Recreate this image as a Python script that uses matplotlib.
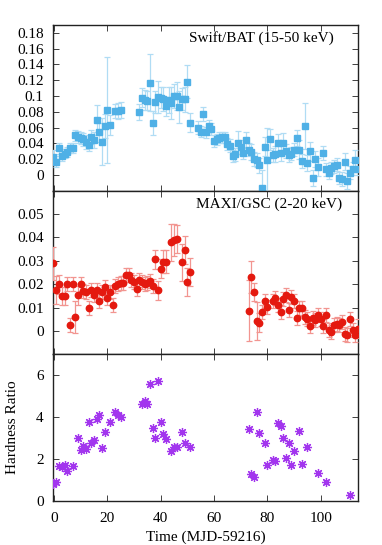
import matplotlib
matplotlib.use("Agg")
import matplotlib.pyplot as plt
import numpy as np

# ---------------- Swift/BAT (15-50 keV) ----------------
bat_t = [-0.25, 0.75, 1.9, 2.9, 3.9, 4.9, 6, 7, 8, 9, 10, 11, 12, 13, 14, 15, 16, 17, 18, 19,
         20, 21, 23, 24, 25,
         32, 33, 34, 35, 36, 37, 38, 39, 40, 41, 42, 43, 44, 45, 46, 47, 48, 49, 50, 51,
         54, 55, 56, 57, 58, 59, 60, 61, 62, 63, 64, 65, 66, 67, 68, 69, 70, 71, 72, 73,
         74, 75, 76, 77, 78, 79, 80, 81, 82, 83, 84, 85, 86, 87, 88, 89, 90, 91, 92, 93,
         94, 95, 96, 97, 98, 99, 101, 102, 103, 104, 105, 106, 107, 108, 109, 110, 111,
         112, 113, 114]
bat_r = [0.023, 0.017, 0.034, 0.024, 0.027, 0.029, 0.034, 0.034, 0.050, 0.048, 0.047, 0.045,
         0.042, 0.038, 0.048, 0.044, 0.069, 0.054, 0.042, 0.062, 0.082, 0.063, 0.081, 0.081,
         0.082,
         0.080, 0.098, 0.095, 0.094, 0.117, 0.066, 0.092, 0.099, 0.098, 0.096, 0.087, 0.095,
         0.091, 0.100, 0.100, 0.086, 0.096, 0.096, 0.118, 0.066,
         0.060, 0.055, 0.077, 0.054, 0.062, 0.058, 0.043, 0.045, 0.047, 0.048, 0.048, 0.039,
         0.037, 0.024, 0.026, 0.041, 0.035, 0.028, 0.044, 0.032, 0.029, 0.020, 0.019, 0.012,
         -0.017, 0.036, 0.019, 0.045, 0.025, 0.027, 0.041, 0.028, 0.041, 0.030, 0.025, 0.027,
         0.032, 0.047, 0.032, 0.018, 0.062, 0.015, 0.030, -0.004, 0.020, 0.010, 0.028, 0.007,
         0.003, 0.009, 0.011, 0.013, -0.004, -0.005, 0.017, -0.008, 0.003, 0.008, 0.019, 0.008]
bat_e = [0.008, 0.007, 0.007, 0.006, 0.006, 0.006, 0.006, 0.006, 0.007, 0.008, 0.008, 0.008,
         0.009, 0.008, 0.009, 0.010, 0.019, 0.012, 0.030, 0.015, 0.067, 0.013, 0.009, 0.010,
         0.010,
         0.010, 0.012, 0.013, 0.012, 0.036, 0.015, 0.014, 0.020, 0.013, 0.015, 0.012, 0.016,
         0.020, 0.015, 0.018, 0.020, 0.014, 0.016, 0.021, 0.012,
         0.008, 0.007, 0.009, 0.007, 0.007, 0.008, 0.007, 0.007, 0.007, 0.007, 0.007, 0.008,
         0.008, 0.008, 0.008, 0.015, 0.009, 0.008, 0.010, 0.008, 0.010, 0.009, 0.009, 0.009,
         0.023, 0.012, 0.040, 0.013, 0.009, 0.010, 0.011, 0.010, 0.012, 0.009, 0.009, 0.008,
         0.008, 0.010, 0.012, 0.009, 0.029, 0.010, 0.012, 0.010, 0.010, 0.012, 0.009, 0.008,
         0.008, 0.008, 0.008, 0.008, 0.008, 0.009, 0.011, 0.010, 0.008, 0.008, 0.012, 0.008]

# ---------------- MAXI/GSC (2-20 keV) ----------------
gsc_t = [-0.25, 0.75, 1.9, 2.9, 3.9, 4.9, 5.9, 7, 8, 9, 10, 11, 12, 13, 14, 15, 16, 17, 18, 19,
         20, 21, 22, 23, 24, 25, 26, 27, 28, 29, 30, 31, 32, 33, 34, 35, 36, 37, 38, 39, 40,
         41, 42, 44, 45, 46, 48, 49, 50, 51,
         73, 74, 75, 76, 77, 78, 79, 80, 82, 83, 84, 85, 86, 87, 88, 89, 90, 91, 92, 93, 94,
         95, 96, 97, 98, 99, 100, 101, 102, 103, 104, 105, 106, 107, 108, 109, 110, 111, 112,
         113, 114]
gsc_r = [0.0289, 0.0174, 0.0199, 0.0150, 0.0149, 0.0199, 0.0024, 0.0199, 0.0060, 0.0153,
         0.0199, 0.0170, 0.0167, 0.0100, 0.0174, 0.0153, 0.0177, 0.0129, 0.0167, 0.0189,
         0.0141, 0.0167, 0.0110, 0.0191, 0.0199, 0.0203, 0.0203, 0.0241, 0.0241, 0.0217,
         0.0210, 0.0180, 0.0220, 0.0210, 0.0199, 0.0207, 0.0213, 0.0193, 0.0307, 0.0174,
         0.0267, 0.0297, 0.0297, 0.0379, 0.0389, 0.0393, 0.0293, 0.0346, 0.0210, 0.0253,
         0.0086, 0.0231, 0.0167, 0.0043, 0.0036, 0.0081, 0.0127, 0.0103, 0.0127, 0.0139,
         0.0113, 0.0079, 0.0136, 0.0153, 0.0089, 0.0146, 0.0127, 0.0056, 0.0096, 0.0099,
         0.0060, 0.0053, 0.0020, 0.0056, 0.0046, 0.0067, 0.0050, 0.0020, 0.0067, 0.0003,
         -0.0004, 0.0027, 0.0031, 0.0024, 0.0039, -0.0014, -0.0016, 0.0053, 0.0003, -0.0019,
         0.0010]
gsc_e = [0.007, 0.006, 0.004, 0.004, 0.004, 0.003, 0.003, 0.003, 0.007, 0.004,
         0.003, 0.003, 0.003, 0.003, 0.003, 0.003, 0.003, 0.003, 0.003, 0.003,
         0.003, 0.003, 0.003, 0.003, 0.003, 0.003, 0.003, 0.003, 0.003, 0.003,
         0.003, 0.003, 0.003, 0.003, 0.003, 0.003, 0.003, 0.003, 0.004, 0.004,
         0.004, 0.005, 0.005, 0.008, 0.007, 0.006, 0.008, 0.006, 0.006, 0.006,
         0.013, 0.007, 0.004, 0.008, 0.004, 0.003, 0.003, 0.003, 0.003, 0.003,
         0.003, 0.003, 0.003, 0.003, 0.003, 0.003, 0.003, 0.003, 0.003, 0.003,
         0.003, 0.003, 0.003, 0.003, 0.003, 0.003, 0.003, 0.003, 0.003, 0.003,
         0.003, 0.003, 0.003, 0.003, 0.003, 0.003, 0.003, 0.003, 0.003, 0.003,
         0.004]

# ---------------- Hardness ratio ----------------
hr_t = [-0.25, 0.75, 1.9, 2.9, 3.9, 4.9, 7, 9, 10, 11, 12, 13, 14, 15, 16, 17, 18, 19, 21,
        23, 24, 25, 33, 34, 35, 36, 37, 38, 39, 40, 41, 42, 44, 45, 46, 48, 49, 51,
        73, 74, 75, 76, 77, 79, 80, 82, 83, 84, 85, 86, 87, 88, 89, 90, 92, 93, 95, 99,
        102, 111]
hr_v = [0.80, 0.93, 1.67, 1.61, 1.72, 1.44, 1.69, 3.03, 2.44, 2.63, 2.47, 3.75, 2.79, 2.89,
        3.92, 4.11, 2.52, 3.27, 3.75, 4.27, 4.11, 4.00, 4.64, 4.75, 4.64, 5.58, 3.48, 3.00,
        5.74, 3.75, 3.20, 2.95, 2.41, 2.60, 2.60, 3.29, 2.79, 2.60,
        3.44, 1.28, 1.16, 4.27, 3.24, 2.76, 1.72, 1.96, 1.93, 3.72, 3.59, 3.00, 2.04, 2.79,
        1.72, 2.39, 3.35, 1.77, 2.60, 1.36, 0.89, 0.29]

labels = ["Swift/BAT (15-50 keV)", "MAXI/GSC (2-20 keV)"]
xticks = [0, 20, 40, 60, 80, 100]

plt.rcParams['font.family'] = ['Liberation Serif', 'DejaVu Serif']
plt.rcParams['font.size'] = 11

fig = plt.figure(figsize=(3.82, 5.45), dpi=100)
L, W = 0.1396, 0.7984
ax1 = fig.add_axes([L, 0.6501, W, 0.3040])
ax2 = fig.add_axes([L, 0.3499, W, 0.3002])
ax3 = fig.add_axes([L, 0.0807, W, 0.2692])

blue = '#4fb0e6'
blue_e = '#b0dcf4'
red = '#e4190f'
red_e = '#f29590'
purple = '#a235ee'

ax1.errorbar(bat_t, bat_r, yerr=bat_e, fmt='s', ms=4.2, color=blue, ecolor=blue_e,
             elinewidth=0.9, capsize=2.0, capthick=0.9, zorder=3)
ax2.errorbar(gsc_t, gsc_r, yerr=gsc_e, fmt='o', ms=4.6, color=red, ecolor=red_e,
             elinewidth=0.9, capsize=2.0, capthick=0.9, zorder=3)
ax3.plot(hr_t, hr_v, linestyle='none', marker=(8, 2, 0), ms=6.5, mew=0.9,
         color=purple, zorder=3)

ax1.set_ylim(-0.02, 0.19)
ax1.set_yticks(np.arange(0, 0.181, 0.02))
ax1.set_yticklabels(['0', '0.02', '0.04', '0.06', '0.08', '0.1', '0.12', '0.14', '0.16', '0.18'])
ax2.set_ylim(-0.01, 0.06)
ax2.set_yticks([0, 0.01, 0.02, 0.03, 0.04, 0.05])
ax2.set_yticklabels(['0', '0.01', '0.02', '0.03', '0.04', '0.05'])
ax3.set_ylim(0, 7)
ax3.set_yticks([0, 2, 4, 6])
ax3.set_ylabel("Hardness Ratio", fontsize=11, labelpad=12)
ax3.set_xlabel("Time (MJD-59216)", fontsize=11, labelpad=4)

for ax in (ax1, ax2, ax3):
    ax.set_xlim(-0.3, 114.1)
    ax.set_xticks(xticks)
    ax.tick_params(direction='in', length=4, width=0.6, top=True, right=True,
                   labelsize=11, pad=7, colors='#222222', labelcolor='black')
    for s in ax.spines.values():
        s.set_linewidth(1.0)
        s.set_color('#222222')
for ax in (ax1, ax2):
    ax.tick_params(labelbottom=False)
ax3.tick_params(axis='x', pad=8)

ax1.text(0.92, 0.921, labels[0], transform=ax1.transAxes, ha='right', va='center', fontsize=11)
ax2.text(0.947, 0.92, labels[1], transform=ax2.transAxes, ha='right', va='center', fontsize=11)

fig.savefig("out.png", dpi=100)
